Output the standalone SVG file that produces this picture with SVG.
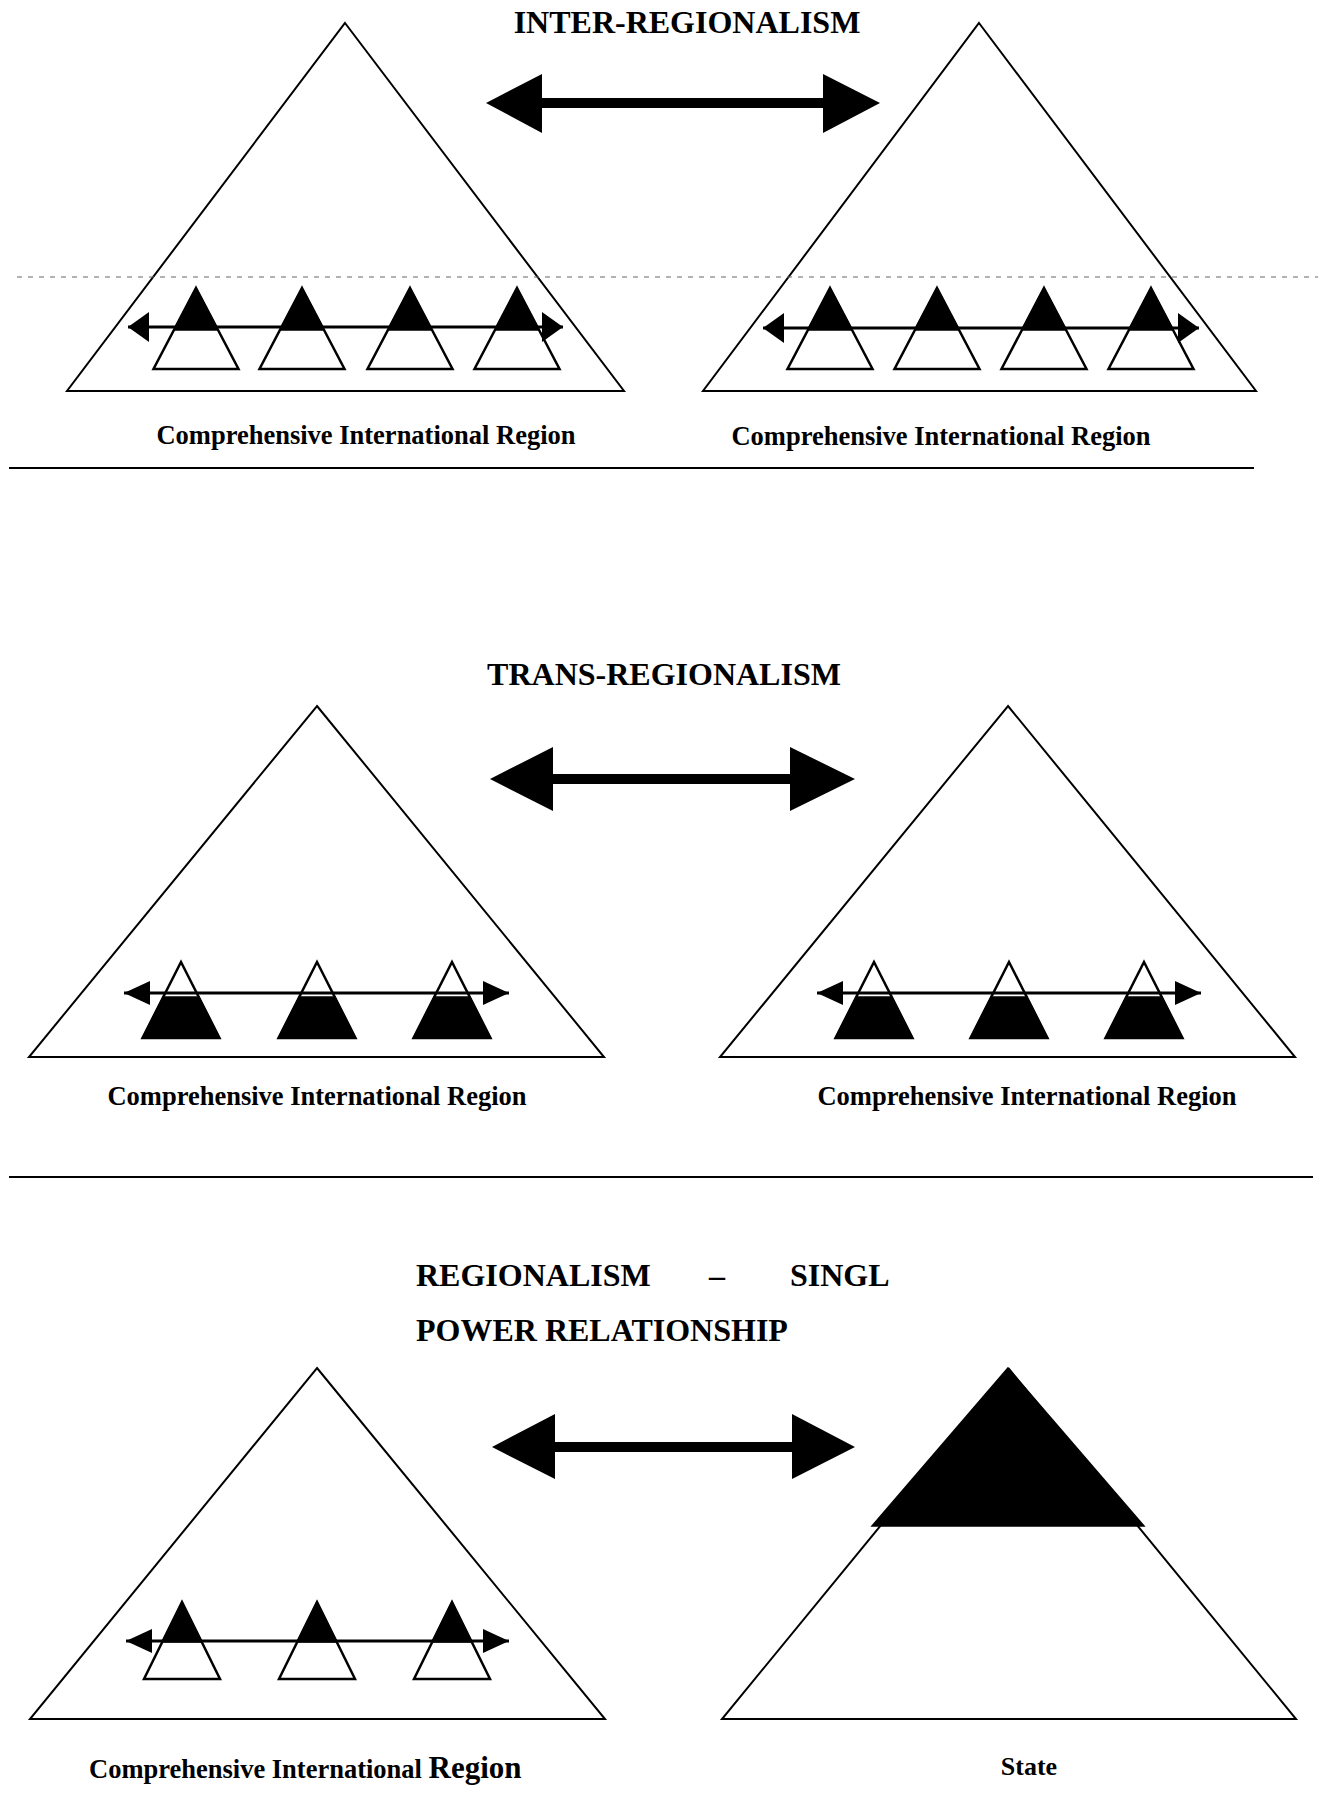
<svg xmlns="http://www.w3.org/2000/svg" xmlns:xlink="http://www.w3.org/1999/xlink" width="1322" height="1809" viewBox="0 0 1322 1809">
<style>
.big{fill:#fff;stroke:#000;stroke-width:2;stroke-linejoin:miter}
.mini{fill:#fff;stroke:#000;stroke-width:2.5;stroke-linejoin:miter}
.blk{fill:#000;stroke:#000;stroke-width:1.5}
.title{font-family:"Liberation Serif","Times New Roman",serif;font-weight:bold;font-size:32px;fill:#000}
.lbl{font-family:"Liberation Serif","Times New Roman",serif;font-weight:bold;font-size:26.5px;fill:#000}
.sep{stroke:#000;stroke-width:2}
.thin{stroke:#000;stroke-width:3;fill:none}
.bigarrow{fill:#000}
</style>
<defs>
<marker id="hA" viewBox="0 0 21 30" refX="21" refY="15" markerWidth="21" markerHeight="30" markerUnits="userSpaceOnUse" orient="auto-start-reverse"><path d="M0,0 L21,15 L0,30 Z" fill="#000"/></marker>
<marker id="hB" viewBox="0 0 26 24" refX="26" refY="12" markerWidth="26" markerHeight="24" markerUnits="userSpaceOnUse" orient="auto-start-reverse"><path d="M0,0 L26,12 L0,24 Z" fill="#000"/></marker>
<g id="triA"><polygon class="mini" points="0,0 42.5,81 -42.5,81"/><polygon class="blk" points="0,0 22,42 -22,42"/></g>
<g id="triB"><polygon class="mini" points="0,0 38.5,76 -38.5,76"/><polygon class="blk" points="-17.7,35 17.7,35 38.5,76 -38.5,76"/></g>
<g id="triC"><polygon class="mini" points="0,0 38,77 -38,77"/><polygon class="blk" points="0,0 19.7,40 -19.7,40"/></g>
</defs>
<rect width="1322" height="1809" fill="#fff"/>

<!-- Section 1: INTER-REGIONALISM -->
<text class="title" x="687" y="33" text-anchor="middle">INTER-REGIONALISM</text>
<g id="region-1a"><polygon class="big" points="345,23 624,391 67,391"/></g>
<g id="region-1b"><polygon class="big" points="979,23 1256,391 703,391"/></g>
<line x1="17" y1="277" x2="1318" y2="277" stroke="#666" stroke-width="1" stroke-dasharray="5 6"/>
<g id="state-1a1"><use xlink:href="#triA" x="196" y="288"/></g>
<g id="state-1a2"><use xlink:href="#triA" x="302" y="288"/></g>
<g id="state-1a3"><use xlink:href="#triA" x="410" y="288"/></g>
<g id="state-1a4"><use xlink:href="#triA" x="517" y="288"/></g>
<g id="state-1b1"><use xlink:href="#triA" x="830" y="288"/></g>
<g id="state-1b2"><use xlink:href="#triA" x="937" y="288"/></g>
<g id="state-1b3"><use xlink:href="#triA" x="1044" y="288"/></g>
<g id="state-1b4"><use xlink:href="#triA" x="1151" y="288"/></g>
<text class="lbl" x="366" y="444" text-anchor="middle">Comprehensive International Region</text>
<text class="lbl" x="941" y="445" text-anchor="middle">Comprehensive International Region</text>
<line class="sep" x1="9" y1="468" x2="1254" y2="468"/>

<!-- Section 2: TRANS-REGIONALISM -->
<text class="title" x="664" y="685" text-anchor="middle">TRANS-REGIONALISM</text>
<g id="region-2a"><polygon class="big" points="317,706 604,1057 29,1057"/></g>
<g id="region-2b"><polygon class="big" points="1008,706 1295,1057 720,1057"/></g>
<g id="state-2a1"><use xlink:href="#triB" x="181" y="962"/></g>
<g id="state-2a2"><use xlink:href="#triB" x="317" y="962"/></g>
<g id="state-2a3"><use xlink:href="#triB" x="452" y="962"/></g>
<g id="state-2b1"><use xlink:href="#triB" x="874" y="962"/></g>
<g id="state-2b2"><use xlink:href="#triB" x="1009" y="962"/></g>
<g id="state-2b3"><use xlink:href="#triB" x="1144" y="962"/></g>
<text class="lbl" x="317" y="1105" text-anchor="middle">Comprehensive International Region</text>
<text class="lbl" x="1027" y="1105" text-anchor="middle">Comprehensive International Region</text>
<line class="sep" x1="9" y1="1177" x2="1313" y2="1177"/>

<!-- Section 3: REGIONALISM - SINGL POWER RELATIONSHIP -->
<text class="title" y="1286"><tspan x="416">REGIONALISM</tspan><tspan x="709">–</tspan><tspan x="790">SINGL</tspan></text>
<text class="title" x="416" y="1341">POWER RELATIONSHIP</text>
<g id="region-3a"><polygon class="big" points="317,1368 605,1719 30,1719"/></g>
<g id="state-3b"><polygon class="big" points="1009,1369 1296,1719 722,1719"/><polygon class="blk" points="1008,1368 1144,1526 872,1526"/></g>
<g id="state-3a1"><use xlink:href="#triC" x="182" y="1602"/></g>
<g id="state-3a2"><use xlink:href="#triC" x="317" y="1602"/></g>
<g id="state-3a3"><use xlink:href="#triC" x="452" y="1602"/></g>
<text class="lbl" x="89" y="1778">Comprehensive International <tspan style="font-size:31px">Region</tspan></text>
<text class="lbl" x="1029" y="1775" text-anchor="middle" style="font-size:26px">State</text>

<!-- Connectors -->
<g id="connectors">
<polygon class="bigarrow" points="486,103 542,74 542,98 823,98 823,74 880,103 823,133 823,108 542,108 542,133"/>
<polygon class="bigarrow" points="490,779 553,747 553,774 790,774 790,747 855,779 790,811 790,784 553,784 553,811"/>
<polygon class="bigarrow" points="492,1447 555,1414 555,1442 792,1442 792,1414 855,1447 792,1479 792,1452 555,1452 555,1479"/>
<line class="thin" x1="128" y1="327" x2="563" y2="327" marker-start="url(#hA)" marker-end="url(#hA)"/>
<line class="thin" x1="763" y1="328" x2="1199" y2="328" marker-start="url(#hA)" marker-end="url(#hA)"/>
<line class="thin" x1="124" y1="993" x2="509" y2="993" marker-start="url(#hB)" marker-end="url(#hB)"/>
<line class="thin" x1="817" y1="993" x2="1201" y2="993" marker-start="url(#hB)" marker-end="url(#hB)"/>
<line class="thin" x1="126" y1="1641" x2="509" y2="1641" marker-start="url(#hB)" marker-end="url(#hB)"/>
</g>
</svg>
